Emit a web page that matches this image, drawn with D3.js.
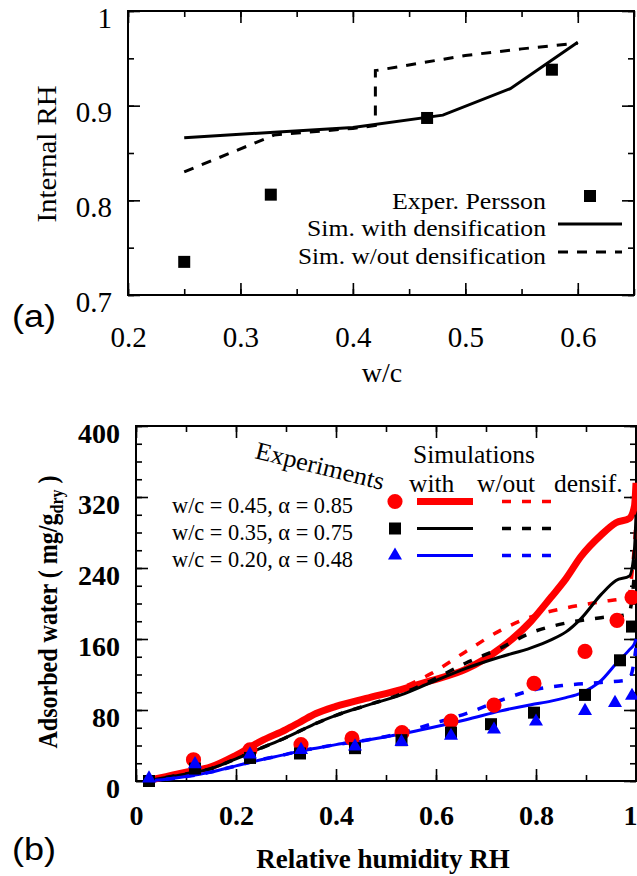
<!DOCTYPE html>
<html>
<head>
<meta charset="utf-8">
<script src="https://d3js.org/d3.v7.min.js"></script>
<style>
    body { margin: 0; background: #fff; }
    svg { display: block; }
    .serif { font-family: "Liberation Serif", "Times New Roman", Times, serif; }
    .axis path.domain { display: none; }
    .axis line { stroke: #000; stroke-width: 1.6; }
    .axA text { font-family: "Liberation Serif", "Times New Roman", serif; font-size: 29px; fill: #000; }
    .axB text { font-family: "Liberation Serif", "Times New Roman", serif; font-size: 28px; font-weight: bold; fill: #000; }
    .frame { fill: none; stroke: #000; stroke-width: 2; }
</style>
</head>
<body>
<div id="chart"></div>
<script>
// ---------- panel (a) data ----------
var wcMajor = [0.2, 0.3, 0.4, 0.5, 0.6];
var wcMinor = [0.2, 0.25, 0.3, 0.35, 0.4, 0.45, 0.5, 0.55, 0.6, 0.65];
var rhMajor = [0.7, 0.8, 0.9, 1];
var rhMinor = [0.7, 0.75, 0.8, 0.85, 0.9, 0.95, 1];

var wcPersson = [0.25, 0.327, 0.466, 0.577];
var rhPersson = [0.735, 0.806, 0.887, 0.938];

var wcSimWith = [0.25, 0.33, 0.40, 0.48, 0.54, 0.60];
var rhSimWith = [0.866, 0.872, 0.877, 0.890, 0.918, 0.967];

var wcSimWithout = [0.25, 0.33, 0.40, 0.42, 0.42, 0.50, 0.55, 0.60];
var rhSimWithout = [0.830, 0.869, 0.876, 0.879, 0.937, 0.953, 0.960, 0.966];

// ---------- panel (b) data ----------
var humMajor = [0, 0.2, 0.4, 0.6, 0.8, 1];
var humMinor = [0, 0.1, 0.2, 0.3, 0.4, 0.5, 0.6, 0.7, 0.8, 0.9, 1];
var waterMajor = [0, 80, 160, 240, 320, 400];
var waterMinor = d3.range(0, 401, 20);

var rhExp45 = [0.115, 0.228, 0.33, 0.432, 0.532, 0.63, 0.716, 0.796, 0.898, 0.962, 0.992];
var wExp45 = [24, 35, 41, 48, 54.5, 67.5, 85.5, 110, 146, 181, 207];
var rhExp35 = [0.026, 0.118, 0.228, 0.328, 0.438, 0.531, 0.63, 0.71, 0.796, 0.898, 0.968, 0.992];
var wExp35 = [0, 14, 26, 31, 37, 46, 54.5, 64, 77, 97, 136, 174];
var rhExp20 = [0.026, 0.118, 0.228, 0.33, 0.438, 0.531, 0.63, 0.716, 0.80, 0.898, 0.958, 0.992];
var wExp20 = [3, 19, 30, 35, 39, 44, 51, 58, 67, 79, 88, 96];

var rhWith = [0.02, 0.06, 0.1, 0.15, 0.2, 0.25, 0.3, 0.33, 0.36, 0.4, 0.46, 0.53, 0.59, 0.66, 0.73, 0.79, 0.83, 0.86, 0.89, 0.93, 0.96, 0.987, 0.997, 1.0];
var w45With = [0, 5, 10, 16, 29, 45, 58, 67, 76, 84, 93, 103, 113, 126, 150, 180, 207, 228, 253, 277, 291, 296, 310, 336];
var w35With = [0, 4, 8, 14, 25, 37, 49, 57, 65, 74, 85, 97, 111, 127, 140, 150, 159, 168, 183, 210, 226, 231, 262, 300];
var w20With = [0, 2, 5, 10, 17, 24, 30, 34, 37, 41, 46, 53, 60, 69, 79, 86, 90, 94, 99, 113, 132, 148, 155, 160];

var rhWithout = [0.02, 0.06, 0.1, 0.15, 0.2, 0.25, 0.3, 0.33, 0.36, 0.4, 0.46, 0.53, 0.59, 0.66, 0.73, 0.79, 0.86, 0.93, 0.985, 0.993, 1.0];
var w45Without = [0, 5, 10, 16, 29, 45, 58, 67, 76, 84, 93, 105, 121, 146, 170, 185, 195, 202, 207, 240, 290];
var w35Without = [0, 4, 8, 14, 25, 37, 49, 57, 65, 74, 85, 98, 113, 133, 150, 167, 178, 184, 188, 210, 260];
var w20Without = [0, 2, 5, 10, 17, 24, 30, 34, 37, 41, 46, 54, 64, 76, 91, 102, 108, 111, 114, 125, 150];

var svg = d3.select("#chart").append("svg")
    .attr("width", 637)
    .attr("height", 876);

function zip(xs, ys) {
    return xs.map(function(v, i) { return [v, ys[i]]; });
}

// four inward-ticked axes round a frame
function drawAxes(cls, x, y, xMajor, xMinor, yMajor, yMinor, xFmt, yFmt, xBase, yBase) {
    var x0 = x.range()[0], x1 = x.range()[1];
    var y0 = y.range()[0], y1 = y.range()[1];
    var g = svg.append("g").attr("class", cls);

    g.append("g").attr("class", "axis").attr("transform", "translate(0," + y0 + ")")
        .call(d3.axisBottom(x).tickValues(xMinor).tickSize(-6).tickFormat(""));
    g.append("g").attr("class", "axis").attr("transform", "translate(0," + y1 + ")")
        .call(d3.axisTop(x).tickValues(xMinor).tickSize(-6).tickFormat(""));
    g.append("g").attr("class", "axis").attr("transform", "translate(0," + y1 + ")")
        .call(d3.axisTop(x).tickValues(xMajor).tickSize(-12).tickFormat(""));
    g.append("g").attr("class", "axis").attr("transform", "translate(" + x0 + ",0)")
        .call(d3.axisLeft(y).tickValues(yMinor).tickSize(-6).tickFormat(""));
    g.append("g").attr("class", "axis").attr("transform", "translate(" + x1 + ",0)")
        .call(d3.axisRight(y).tickValues(yMinor).tickSize(-6).tickFormat(""));
    g.append("g").attr("class", "axis").attr("transform", "translate(" + x1 + ",0)")
        .call(d3.axisRight(y).tickValues(yMajor).tickSize(-12).tickFormat(""));

    var bx = g.append("g").attr("class", "axis").attr("transform", "translate(0," + y0 + ")")
        .call(d3.axisBottom(x).tickValues(xMajor).tickSize(-12).tickFormat(xFmt));
    bx.selectAll("text").attr("y", xBase).attr("dy", null);

    var ly = g.append("g").attr("class", "axis").attr("transform", "translate(" + x0 + ",0)")
        .call(d3.axisLeft(y).tickValues(yMajor).tickSize(-12).tickFormat(yFmt));
    ly.selectAll("text").attr("x", -16).attr("y", yBase).attr("dy", null);

    g.append("rect").attr("class", "frame")
        .attr("x", x0).attr("y", y1)
        .attr("width", x1 - x0).attr("height", y0 - y1);
    return bx;
}

// ================= panel (a) =================
var xa = d3.scaleLinear().domain([0.2, 0.65]).range([128, 634]);
var ya = d3.scaleLinear().domain([0.7, 1]).range([295, 11]);

drawAxes("axA", xa, ya, wcMajor, wcMinor, rhMajor, rhMinor,
    d3.format(".1f"),
    function(d) { return d === 1 ? "1" : d3.format(".1f")(d); },
    52, 16);

var lineA = d3.line()
    .x(function(d) { return xa(d[0]); })
    .y(function(d) { return ya(d[1]); });

svg.append("path")
    .datum(zip(wcSimWith, rhSimWith))
    .attr("d", lineA)
    .attr("fill", "none").attr("stroke", "#000").attr("stroke-width", 3);

svg.append("path")
    .datum(zip(wcSimWithout, rhSimWithout))
    .attr("d", lineA)
    .attr("fill", "none").attr("stroke", "#000").attr("stroke-width", 3)
    .attr("stroke-dasharray", "10,9");

svg.selectAll(".persson")
    .data(zip(wcPersson, rhPersson))
    .enter().append("rect")
    .attr("x", function(d) { return xa(d[0]) - 6; })
    .attr("y", function(d) { return ya(d[1]) - 6; })
    .attr("width", 12).attr("height", 12)
    .attr("fill", "#000");

// legend (a)
var legA = [
    { label: "Exper. Persson", x: 392, len: 154, y: 209 },
    { label: "Sim. with densification", x: 307, len: 239, y: 236 },
    { label: "Sim. w/out densification", x: 298, len: 248, y: 264 }
];
svg.selectAll(".legA")
    .data(legA)
    .enter().append("text")
    .attr("class", "serif")
    .attr("x", function(d) { return d.x; })
    .attr("y", function(d) { return d.y; })
    .attr("textLength", function(d) { return d.len; })
    .attr("lengthAdjust", "spacingAndGlyphs")
    .style("font-size", "23px")
    .text(function(d) { return d.label; });

svg.append("rect").attr("x", 584).attr("y", 190).attr("width", 12).attr("height", 12).attr("fill", "#000");
svg.append("line").attr("x1", 558).attr("x2", 622).attr("y1", 224).attr("y2", 224)
    .attr("stroke", "#000").attr("stroke-width", 3);
svg.append("line").attr("x1", 558).attr("x2", 622).attr("y1", 252).attr("y2", 252)
    .attr("stroke", "#000").attr("stroke-width", 3).attr("stroke-dasharray", "10,9");

svg.append("text")
    .attr("class", "serif")
    .attr("transform", "translate(56,154) rotate(-90)")
    .attr("text-anchor", "middle")
    .attr("textLength", 137).attr("lengthAdjust", "spacingAndGlyphs")
    .style("font-size", "28px")
    .text("Internal RH");

svg.append("text")
    .attr("class", "serif")
    .attr("x", 382).attr("y", 382)
    .attr("text-anchor", "middle")
    .style("font-size", "28px")
    .text("w/c");

svg.append("text")
    .attr("x", 12).attr("y", 327)
    .attr("textLength", 44).attr("lengthAdjust", "spacingAndGlyphs")
    .style("font-family", "'Liberation Sans', Arial, sans-serif")
    .style("font-size", "31px")
    .text("(a)");

// ================= panel (b) =================
var xb = d3.scaleLinear().domain([0, 1]).range([136, 636]);
var yb = d3.scaleLinear().domain([0, 400]).range([781, 426]);

var bxB = drawAxes("axB", xb, yb, humMajor, humMinor, waterMajor, waterMinor,
    function(d) { return (d === 0 || d === 1) ? String(d) : d3.format(".1f")(d); },
    d3.format("d"),
    44, 16);
// last label sits on the page edge: keep it inside
bxB.selectAll("text").filter(function(d) { return d === 1; })
    .attr("text-anchor", "end").attr("x", 1);

var lineB = d3.line()
    .x(function(d) { return xb(d[0]); })
    .y(function(d) { return yb(d[1]); })
    .curve(d3.curveMonotoneX);

var sims = [
    { xs: rhWith, ys: w45With, color: "#ff0000", width: 7, dash: null },
    { xs: rhWithout, ys: w45Without, color: "#ff0000", width: 3.5, dash: "9,11" },
    { xs: rhWith, ys: w35With, color: "#000000", width: 3, dash: null },
    { xs: rhWithout, ys: w35Without, color: "#000000", width: 3.5, dash: "9,11" },
    { xs: rhWith, ys: w20With, color: "#0000ff", width: 3, dash: null },
    { xs: rhWithout, ys: w20Without, color: "#0000ff", width: 3.5, dash: "9,11" }
];

svg.selectAll(".sim")
    .data(sims)
    .enter().append("path")
    .attr("d", function(d) { return lineB(zip(d.xs, d.ys)); })
    .attr("fill", "none")
    .attr("stroke", function(d) { return d.color; })
    .attr("stroke-width", function(d) { return d.width; })
    .attr("stroke-dasharray", function(d) { return d.dash; });

var sym45 = d3.symbol().type(d3.symbolCircle).size(180);
var sym35 = d3.symbol().type(d3.symbolSquare).size(144);
var sym20 = d3.symbol().type(d3.symbolTriangle).size(85);

var exps = [
    { xs: rhExp45, ys: wExp45, sym: sym45, color: "#ff0000" },
    { xs: rhExp35, ys: wExp35, sym: sym35, color: "#000000" },
    { xs: rhExp20, ys: wExp20, sym: sym20, color: "#0000ff" }
];

exps.forEach(function(s) {
    svg.append("g").selectAll("path")
        .data(zip(s.xs, s.ys))
        .enter().append("path")
        .attr("d", s.sym)
        .attr("transform", function(d) { return "translate(" + xb(d[0]) + "," + yb(d[1]) + ")"; })
        .attr("fill", s.color);
});

// legend (b)
svg.append("text")
    .attr("class", "serif")
    .attr("transform", "translate(254,458) rotate(14)")
    .attr("textLength", 132).attr("lengthAdjust", "spacingAndGlyphs")
    .style("font-size", "25px")
    .text("Experiments");

svg.append("text").attr("class", "serif")
    .attr("x", 474).attr("y", 463).attr("text-anchor", "middle")
    .style("font-size", "25.5px").text("Simulations");
svg.append("text").attr("class", "serif")
    .attr("x", 409).attr("y", 492)
    .style("font-size", "25.5px").text("with");
svg.append("text").attr("class", "serif")
    .attr("x", 477).attr("y", 492)
    .style("font-size", "25.5px").text("w/out");
svg.append("text").attr("class", "serif")
    .attr("x", 554).attr("y", 492)
    .style("font-size", "25.5px").text("densif.");

var legB = [
    { label: "w/c = 0.45, \u03b1 = 0.85", y: 501.5, sym: sym45, color: "#ff0000", width: 7 },
    { label: "w/c = 0.35, \u03b1 = 0.75", y: 528.5, sym: sym35, color: "#000000", width: 3 },
    { label: "w/c = 0.20, \u03b1 = 0.48", y: 555.5, sym: sym20, color: "#0000ff", width: 3 }
];

legB.forEach(function(d) {
    svg.append("text").attr("class", "serif")
        .attr("x", 172).attr("y", d.y + 11)
        .attr("textLength", 181).attr("lengthAdjust", "spacingAndGlyphs")
        .style("font-size", "23px")
        .text(d.label);
    svg.append("path")
        .attr("d", d.sym)
        .attr("transform", "translate(395," + d.y + ")")
        .attr("fill", d.color);
    svg.append("line")
        .attr("x1", 417).attr("x2", 473).attr("y1", d.y).attr("y2", d.y)
        .attr("stroke", d.color).attr("stroke-width", d.width);
    svg.append("line")
        .attr("x1", 502).attr("x2", 554).attr("y1", d.y).attr("y2", d.y)
        .attr("stroke", d.color).attr("stroke-width", 3.5).attr("stroke-dasharray", "9,11");
});

// y title squeezed along its length to fit the reference span
var yl = svg.append("text")
    .attr("class", "serif")
    .attr("transform", "translate(57,612) rotate(-90) scale(0.89,1)")
    .attr("text-anchor", "middle")
    .style("font-size", "27px")
    .style("font-weight", "bold");
yl.append("tspan").text("Adsorbed water ( mg/g");
yl.append("tspan").attr("dy", 6).style("font-size", "18px").text("dry");
yl.append("tspan").attr("dy", -6).text(" )");

svg.append("text")
    .attr("class", "serif")
    .attr("x", 383).attr("y", 868)
    .attr("text-anchor", "middle")
    .style("font-size", "27px")
    .style("font-weight", "bold")
    .text("Relative humidity RH");

svg.append("text")
    .attr("x", 12).attr("y", 860)
    .attr("textLength", 44).attr("lengthAdjust", "spacingAndGlyphs")
    .style("font-family", "'Liberation Sans', Arial, sans-serif")
    .style("font-size", "31px")
    .text("(b)");
</script>
</body>
</html>
